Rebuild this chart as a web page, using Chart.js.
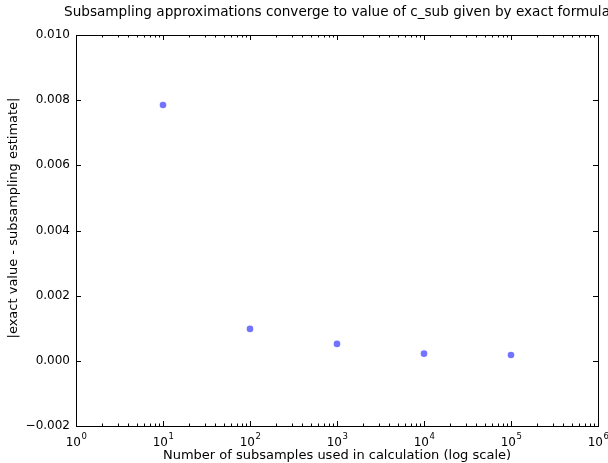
<!DOCTYPE html>
<html lang="en">
    <head>
        <meta charset="UTF-8" />
        <title>Subsampling approximations</title>
        <script src="https://cdn.jsdelivr.net/npm/chart.js"></script>
        <style>
            html, body { margin: 0; padding: 0; background: #fff; }
        </style>
    </head>
    <body>
        <canvas id="chart" width="608" height="463"></canvas>
        <script>
            // data
            const subsamples = [10, 100, 1000, 10000, 100000];
            const errors = [0.00785, 0.00098, 0.00052, 0.00022, 0.00018];
            const xTicks = [1, 10, 100, 1000, 10000, 100000, 1000000];
            const yTicks = [-0.002, 0, 0.002, 0.004, 0.006, 0.008, 0.01];
            const chartTitle = "Subsampling approximations converge to value of c_sub given by exact formula";
            const yTitle = "|exact value - subsampling estimate|";

            const FONT = "'DejaVu Sans', sans-serif";

            // matplotlib-ish frame, inward ticks, 10^n labels, titles
            const framePlugin = {
                id: "frame",
                afterDraw(chart) {
                    const { ctx, chartArea: a, scales } = chart;
                    const x = scales.x, y = scales.y;
                    ctx.save();
                    ctx.strokeStyle = "#000";
                    ctx.lineWidth = 1;
                    ctx.beginPath();
                    for (let d = 0; d < 6; d++) {
                        const base = Math.pow(10, d);
                        for (let m = 1; m <= 9; m++) {
                            const px = Math.round(x.getPixelForValue(base * m)) + 0.5;
                            const len = m === 1 ? 5 : 2.5;
                            ctx.moveTo(px, a.bottom);
                            ctx.lineTo(px, a.bottom - len);
                            ctx.moveTo(px, a.top);
                            ctx.lineTo(px, a.top + len);
                        }
                    }
                    yTicks.forEach((v) => {
                        const py = Math.round(y.getPixelForValue(v)) + 0.5;
                        ctx.moveTo(a.left, py);
                        ctx.lineTo(a.left + 5, py);
                        ctx.moveTo(a.right, py);
                        ctx.lineTo(a.right - 5, py);
                    });
                    ctx.stroke();
                    ctx.strokeRect(
                        Math.round(a.left) + 0.5,
                        Math.round(a.top) + 0.5,
                        Math.round(a.right - a.left),
                        Math.round(a.bottom - a.top)
                    );

                    // x tick labels as 10 with a raised exponent
                    ctx.fillStyle = "#000";
                    ctx.textBaseline = "alphabetic";
                    ctx.textAlign = "left";
                    xTicks.forEach((v) => {
                        const px = x.getPixelForValue(v);
                        const exp = String(Math.round(Math.log10(v)));
                        ctx.font = "12px " + FONT;
                        const wb = ctx.measureText("10").width;
                        ctx.font = "8.5px " + FONT;
                        const we = ctx.measureText(exp).width;
                        const left = px - (wb + we) / 2;
                        ctx.font = "12px " + FONT;
                        ctx.fillText("10", left, a.bottom + 20);
                        ctx.font = "8.5px " + FONT;
                        ctx.fillText(exp, left + wb + 0.5, a.bottom + 13);
                    });

                    // chart title, centred over the plot area
                    ctx.font = "13.6px " + FONT;
                    ctx.textAlign = "center";
                    ctx.textBaseline = "middle";
                    ctx.fillText(chartTitle, (a.left + a.right) / 2, 12);

                    // y axis title
                    ctx.font = "13px " + FONT;
                    ctx.translate(14, 218);
                    ctx.rotate(-Math.PI / 2);
                    ctx.fillText(yTitle, 0, 0);
                    ctx.restore();
                },
            };

            new Chart(document.getElementById("chart"), {
                type: "scatter",
                data: {
                    datasets: [
                        {
                            data: subsamples.map((s, i) => ({ x: s, y: errors[i] })),
                            backgroundColor: "rgba(0,0,255,0.55)",
                            borderColor: "rgba(0,0,255,0.55)",
                            borderWidth: 0,
                            pointRadius: 3.3,
                        },
                    ],
                },
                options: {
                    responsive: false,
                    animation: false,
                    devicePixelRatio: 1,
                    layout: { padding: { top: 35, right: 10, left: 0, bottom: 0 } },
                    plugins: {
                        legend: { display: false },
                        tooltip: { enabled: false },
                        title: { display: false },
                    },
                    scales: {
                        x: {
                            type: "logarithmic",
                            min: 1,
                            max: 1000000,
                            afterBuildTicks: (s) => {
                                s.ticks = xTicks.map((v) => ({ value: v }));
                            },
                            afterFit: (s) => {
                                s.height = 37;
                            },
                            ticks: { display: false },
                            grid: { display: false, drawTicks: false },
                            border: { display: false },
                            title: {
                                display: true,
                                text: "Number of subsamples used in calculation (log scale)",
                                color: "#000",
                                font: { family: FONT, size: 13 },
                                padding: { top: 0, bottom: 0 },
                            },
                        },
                        y: {
                            min: -0.002,
                            max: 0.01,
                            afterBuildTicks: (s) => {
                                s.ticks = yTicks.map((v) => ({ value: v }));
                            },
                            afterFit: (s) => {
                                s.width = 76;
                            },
                            ticks: {
                                color: "#000",
                                font: { family: FONT, size: 12 },
                                padding: 6,
                                autoSkip: false,
                                callback: (v) =>
                                    (v < 0 ? "\u2212" : "") + Math.abs(v).toFixed(3),
                            },
                            grid: { display: false, drawTicks: false },
                            border: { display: false },
                        },
                    },
                },
                plugins: [framePlugin],
            });
        </script>
    </body>
</html>
